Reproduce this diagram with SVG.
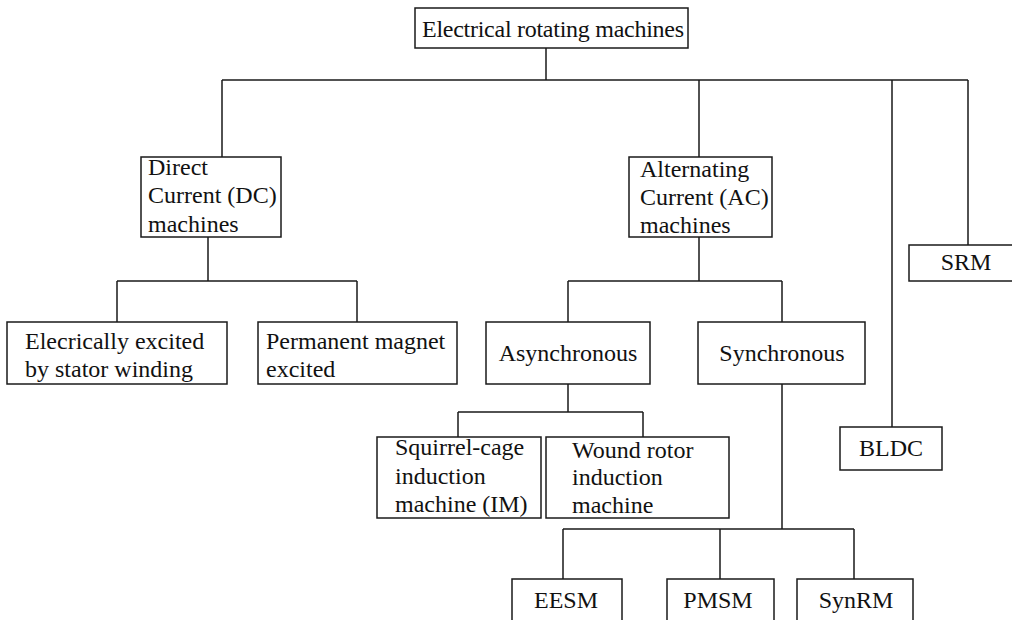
<svg xmlns="http://www.w3.org/2000/svg" width="1012" height="620" viewBox="0 0 1012 620">
<style>
  .box { fill: #ffffff; stroke: #1a1a1a; stroke-width: 1.5; }
  .conn { fill: none; stroke: #1a1a1a; stroke-width: 1.5; }
  text { font-family: "Liberation Serif", "Times New Roman", serif; font-size: 24px; fill: #111111; }
  .c { text-anchor: middle; }
</style>
<rect width="1012" height="620" fill="#ffffff"/>
<g id="connectors">
  <path class="conn" d="M546,48 V80 M222,80 H968 M222,80 V157 M699,80 V157 M892,80 V427 M968,80 V245"/>
  <path class="conn" d="M208,237 V281 M117,281 H357 M117,281 V322 M357,281 V322"/>
  <path class="conn" d="M699,237 V281 M568,281 H782 M568,281 V322 M782,281 V322"/>
  <path class="conn" d="M568,384 V412 M458,412 H643 M458,412 V437 M643,412 V437"/>
  <path class="conn" d="M782,384 V529 M563,529 H854 M563,529 V579 M720,529 V579 M854,529 V579"/>
</g>
<g id="root">
  <rect class="box" x="415" y="8" width="273" height="40"/>
  <text x="422" y="37" textLength="262">Electrical rotating machines</text>
</g>
<g id="dc">
  <rect class="box" x="141" y="157" width="140" height="80"/>
  <text x="148" y="175">Direct</text>
  <text x="148" y="203">Current (DC)</text>
  <text x="148" y="232">machines</text>
</g>
<g id="ac">
  <rect class="box" x="629" y="157" width="143" height="80"/>
  <text x="640" y="177">Alternating</text>
  <text x="640" y="205">Current (AC)</text>
  <text x="640" y="233">machines</text>
</g>
<g id="srm">
  <rect class="box" x="909" y="245" width="110" height="36"/>
  <text class="c" x="966" y="270">SRM</text>
</g>
<g id="bldc">
  <rect class="box" x="840" y="427" width="102" height="43"/>
  <text class="c" x="891" y="456">BLDC</text>
</g>
<g id="elec-excited">
  <rect class="box" x="7" y="322" width="220" height="62"/>
  <text x="25" y="349">Elecrically excited</text>
  <text x="25" y="377">by stator winding</text>
</g>
<g id="pm-excited">
  <rect class="box" x="258" y="322" width="199" height="62"/>
  <text x="266" y="349">Permanent magnet</text>
  <text x="266" y="377">excited</text>
</g>
<g id="async">
  <rect class="box" x="486" y="322" width="164" height="62"/>
  <text class="c" x="568" y="361">Asynchronous</text>
</g>
<g id="sync">
  <rect class="box" x="698" y="322" width="167" height="62"/>
  <text class="c" x="782" y="361">Synchronous</text>
</g>
<g id="squirrel">
  <rect class="box" x="377" y="437" width="164" height="81"/>
  <text x="395" y="455">Squirrel-cage</text>
  <text x="395" y="484">induction</text>
  <text x="395" y="512">machine (IM)</text>
</g>
<g id="wound">
  <rect class="box" x="546" y="437" width="183" height="81"/>
  <text x="572" y="458">Wound rotor</text>
  <text x="572" y="485">induction</text>
  <text x="572" y="513">machine</text>
</g>
<g id="eesm">
  <rect class="box" x="512" y="579" width="110" height="60"/>
  <text class="c" x="566" y="608">EESM</text>
</g>
<g id="pmsm">
  <rect class="box" x="667" y="579" width="107" height="60"/>
  <text class="c" x="718" y="608">PMSM</text>
</g>
<g id="synrm">
  <rect class="box" x="797" y="579" width="116" height="60"/>
  <text class="c" x="856" y="608">SynRM</text>
</g>
</svg>
